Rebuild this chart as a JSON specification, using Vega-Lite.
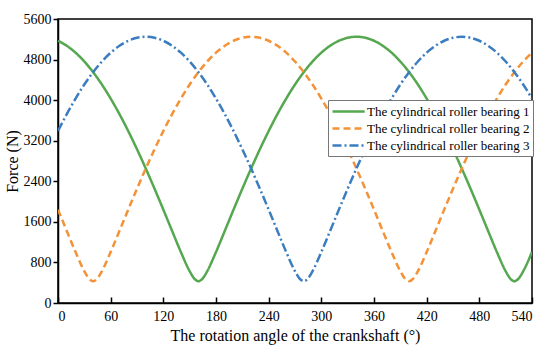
{
  "$schema": "https://vega.github.io/schema/vega-lite/v6.json",
  "width": 474,
  "height": 284,
  "autosize": {"type": "none"},
  "padding": {"left": 58, "top": 19, "right": 18, "bottom": 45},
  "background": "white",
  "config": {
    "font": "Liberation Serif",
    "view": {"stroke": "black", "strokeWidth": 1.5},
    "axis": {"labelFont": "Liberation Serif", "titleFont": "Liberation Serif", "labelColor": "black", "titleColor": "black", "domainColor": "black", "tickColor": "black", "domainWidth": 1.5, "tickWidth": 1.5, "grid": false, "labelFontSize": 14, "titleFontSize": 16, "titleFontWeight": "normal"},
    "legend": {"labelFont": "Liberation Serif", "labelFontSize": 13, "labelColor": "black"}
  },
  "data": {"values": [
    {"angle":0,"force":5171,"series":"The cylindrical roller bearing 1"},
    {"angle":10,"force":5072,"series":"The cylindrical roller bearing 1"},
    {"angle":20,"force":4936,"series":"The cylindrical roller bearing 1"},
    {"angle":30,"force":4762,"series":"The cylindrical roller bearing 1"},
    {"angle":40,"force":4552,"series":"The cylindrical roller bearing 1"},
    {"angle":50,"force":4308,"series":"The cylindrical roller bearing 1"},
    {"angle":60,"force":4031,"series":"The cylindrical roller bearing 1"},
    {"angle":70,"force":3725,"series":"The cylindrical roller bearing 1"},
    {"angle":80,"force":3391,"series":"The cylindrical roller bearing 1"},
    {"angle":90,"force":3032,"series":"The cylindrical roller bearing 1"},
    {"angle":100,"force":2651,"series":"The cylindrical roller bearing 1"},
    {"angle":110,"force":2253,"series":"The cylindrical roller bearing 1"},
    {"angle":120,"force":1841,"series":"The cylindrical roller bearing 1"},
    {"angle":130,"force":1421,"series":"The cylindrical roller bearing 1"},
    {"angle":140,"force":1005,"series":"The cylindrical roller bearing 1"},
    {"angle":150,"force":627,"series":"The cylindrical roller bearing 1"},
    {"angle":155,"force":487,"series":"The cylindrical roller bearing 1"},
    {"angle":160,"force":430,"series":"The cylindrical roller bearing 1"},
    {"angle":165,"force":487,"series":"The cylindrical roller bearing 1"},
    {"angle":170,"force":627,"series":"The cylindrical roller bearing 1"},
    {"angle":180,"force":1005,"series":"The cylindrical roller bearing 1"},
    {"angle":190,"force":1421,"series":"The cylindrical roller bearing 1"},
    {"angle":200,"force":1841,"series":"The cylindrical roller bearing 1"},
    {"angle":210,"force":2253,"series":"The cylindrical roller bearing 1"},
    {"angle":220,"force":2651,"series":"The cylindrical roller bearing 1"},
    {"angle":230,"force":3032,"series":"The cylindrical roller bearing 1"},
    {"angle":240,"force":3391,"series":"The cylindrical roller bearing 1"},
    {"angle":250,"force":3725,"series":"The cylindrical roller bearing 1"},
    {"angle":260,"force":4031,"series":"The cylindrical roller bearing 1"},
    {"angle":270,"force":4308,"series":"The cylindrical roller bearing 1"},
    {"angle":280,"force":4552,"series":"The cylindrical roller bearing 1"},
    {"angle":290,"force":4762,"series":"The cylindrical roller bearing 1"},
    {"angle":300,"force":4936,"series":"The cylindrical roller bearing 1"},
    {"angle":310,"force":5072,"series":"The cylindrical roller bearing 1"},
    {"angle":320,"force":5171,"series":"The cylindrical roller bearing 1"},
    {"angle":330,"force":5230,"series":"The cylindrical roller bearing 1"},
    {"angle":340,"force":5250,"series":"The cylindrical roller bearing 1"},
    {"angle":350,"force":5230,"series":"The cylindrical roller bearing 1"},
    {"angle":360,"force":5171,"series":"The cylindrical roller bearing 1"},
    {"angle":370,"force":5072,"series":"The cylindrical roller bearing 1"},
    {"angle":380,"force":4936,"series":"The cylindrical roller bearing 1"},
    {"angle":390,"force":4762,"series":"The cylindrical roller bearing 1"},
    {"angle":400,"force":4552,"series":"The cylindrical roller bearing 1"},
    {"angle":410,"force":4308,"series":"The cylindrical roller bearing 1"},
    {"angle":420,"force":4031,"series":"The cylindrical roller bearing 1"},
    {"angle":430,"force":3725,"series":"The cylindrical roller bearing 1"},
    {"angle":440,"force":3391,"series":"The cylindrical roller bearing 1"},
    {"angle":450,"force":3032,"series":"The cylindrical roller bearing 1"},
    {"angle":460,"force":2651,"series":"The cylindrical roller bearing 1"},
    {"angle":470,"force":2253,"series":"The cylindrical roller bearing 1"},
    {"angle":480,"force":1841,"series":"The cylindrical roller bearing 1"},
    {"angle":490,"force":1421,"series":"The cylindrical roller bearing 1"},
    {"angle":500,"force":1005,"series":"The cylindrical roller bearing 1"},
    {"angle":510,"force":627,"series":"The cylindrical roller bearing 1"},
    {"angle":515,"force":487,"series":"The cylindrical roller bearing 1"},
    {"angle":520,"force":430,"series":"The cylindrical roller bearing 1"},
    {"angle":525,"force":487,"series":"The cylindrical roller bearing 1"},
    {"angle":530,"force":627,"series":"The cylindrical roller bearing 1"},
    {"angle":540,"force":1005,"series":"The cylindrical roller bearing 1"},
    {"angle":0,"force":1841,"series":"The cylindrical roller bearing 2"},
    {"angle":10,"force":1421,"series":"The cylindrical roller bearing 2"},
    {"angle":20,"force":1005,"series":"The cylindrical roller bearing 2"},
    {"angle":30,"force":627,"series":"The cylindrical roller bearing 2"},
    {"angle":35,"force":487,"series":"The cylindrical roller bearing 2"},
    {"angle":40,"force":430,"series":"The cylindrical roller bearing 2"},
    {"angle":45,"force":487,"series":"The cylindrical roller bearing 2"},
    {"angle":50,"force":627,"series":"The cylindrical roller bearing 2"},
    {"angle":60,"force":1005,"series":"The cylindrical roller bearing 2"},
    {"angle":70,"force":1421,"series":"The cylindrical roller bearing 2"},
    {"angle":80,"force":1841,"series":"The cylindrical roller bearing 2"},
    {"angle":90,"force":2253,"series":"The cylindrical roller bearing 2"},
    {"angle":100,"force":2651,"series":"The cylindrical roller bearing 2"},
    {"angle":110,"force":3032,"series":"The cylindrical roller bearing 2"},
    {"angle":120,"force":3391,"series":"The cylindrical roller bearing 2"},
    {"angle":130,"force":3725,"series":"The cylindrical roller bearing 2"},
    {"angle":140,"force":4031,"series":"The cylindrical roller bearing 2"},
    {"angle":150,"force":4308,"series":"The cylindrical roller bearing 2"},
    {"angle":160,"force":4552,"series":"The cylindrical roller bearing 2"},
    {"angle":170,"force":4762,"series":"The cylindrical roller bearing 2"},
    {"angle":180,"force":4936,"series":"The cylindrical roller bearing 2"},
    {"angle":190,"force":5072,"series":"The cylindrical roller bearing 2"},
    {"angle":200,"force":5171,"series":"The cylindrical roller bearing 2"},
    {"angle":210,"force":5230,"series":"The cylindrical roller bearing 2"},
    {"angle":220,"force":5250,"series":"The cylindrical roller bearing 2"},
    {"angle":230,"force":5230,"series":"The cylindrical roller bearing 2"},
    {"angle":240,"force":5171,"series":"The cylindrical roller bearing 2"},
    {"angle":250,"force":5072,"series":"The cylindrical roller bearing 2"},
    {"angle":260,"force":4936,"series":"The cylindrical roller bearing 2"},
    {"angle":270,"force":4762,"series":"The cylindrical roller bearing 2"},
    {"angle":280,"force":4552,"series":"The cylindrical roller bearing 2"},
    {"angle":290,"force":4308,"series":"The cylindrical roller bearing 2"},
    {"angle":300,"force":4031,"series":"The cylindrical roller bearing 2"},
    {"angle":310,"force":3725,"series":"The cylindrical roller bearing 2"},
    {"angle":320,"force":3391,"series":"The cylindrical roller bearing 2"},
    {"angle":330,"force":3032,"series":"The cylindrical roller bearing 2"},
    {"angle":340,"force":2651,"series":"The cylindrical roller bearing 2"},
    {"angle":350,"force":2253,"series":"The cylindrical roller bearing 2"},
    {"angle":360,"force":1841,"series":"The cylindrical roller bearing 2"},
    {"angle":370,"force":1421,"series":"The cylindrical roller bearing 2"},
    {"angle":380,"force":1005,"series":"The cylindrical roller bearing 2"},
    {"angle":390,"force":627,"series":"The cylindrical roller bearing 2"},
    {"angle":395,"force":487,"series":"The cylindrical roller bearing 2"},
    {"angle":400,"force":430,"series":"The cylindrical roller bearing 2"},
    {"angle":405,"force":487,"series":"The cylindrical roller bearing 2"},
    {"angle":410,"force":627,"series":"The cylindrical roller bearing 2"},
    {"angle":420,"force":1005,"series":"The cylindrical roller bearing 2"},
    {"angle":430,"force":1421,"series":"The cylindrical roller bearing 2"},
    {"angle":440,"force":1841,"series":"The cylindrical roller bearing 2"},
    {"angle":450,"force":2253,"series":"The cylindrical roller bearing 2"},
    {"angle":460,"force":2651,"series":"The cylindrical roller bearing 2"},
    {"angle":470,"force":3032,"series":"The cylindrical roller bearing 2"},
    {"angle":480,"force":3391,"series":"The cylindrical roller bearing 2"},
    {"angle":490,"force":3725,"series":"The cylindrical roller bearing 2"},
    {"angle":500,"force":4031,"series":"The cylindrical roller bearing 2"},
    {"angle":510,"force":4308,"series":"The cylindrical roller bearing 2"},
    {"angle":520,"force":4552,"series":"The cylindrical roller bearing 2"},
    {"angle":530,"force":4762,"series":"The cylindrical roller bearing 2"},
    {"angle":540,"force":4936,"series":"The cylindrical roller bearing 2"},
    {"angle":0,"force":3391,"series":"The cylindrical roller bearing 3"},
    {"angle":10,"force":3725,"series":"The cylindrical roller bearing 3"},
    {"angle":20,"force":4031,"series":"The cylindrical roller bearing 3"},
    {"angle":30,"force":4308,"series":"The cylindrical roller bearing 3"},
    {"angle":40,"force":4552,"series":"The cylindrical roller bearing 3"},
    {"angle":50,"force":4762,"series":"The cylindrical roller bearing 3"},
    {"angle":60,"force":4936,"series":"The cylindrical roller bearing 3"},
    {"angle":70,"force":5072,"series":"The cylindrical roller bearing 3"},
    {"angle":80,"force":5171,"series":"The cylindrical roller bearing 3"},
    {"angle":90,"force":5230,"series":"The cylindrical roller bearing 3"},
    {"angle":100,"force":5250,"series":"The cylindrical roller bearing 3"},
    {"angle":110,"force":5230,"series":"The cylindrical roller bearing 3"},
    {"angle":120,"force":5171,"series":"The cylindrical roller bearing 3"},
    {"angle":130,"force":5072,"series":"The cylindrical roller bearing 3"},
    {"angle":140,"force":4936,"series":"The cylindrical roller bearing 3"},
    {"angle":150,"force":4762,"series":"The cylindrical roller bearing 3"},
    {"angle":160,"force":4552,"series":"The cylindrical roller bearing 3"},
    {"angle":170,"force":4308,"series":"The cylindrical roller bearing 3"},
    {"angle":180,"force":4031,"series":"The cylindrical roller bearing 3"},
    {"angle":190,"force":3725,"series":"The cylindrical roller bearing 3"},
    {"angle":200,"force":3391,"series":"The cylindrical roller bearing 3"},
    {"angle":210,"force":3032,"series":"The cylindrical roller bearing 3"},
    {"angle":220,"force":2651,"series":"The cylindrical roller bearing 3"},
    {"angle":230,"force":2253,"series":"The cylindrical roller bearing 3"},
    {"angle":240,"force":1841,"series":"The cylindrical roller bearing 3"},
    {"angle":250,"force":1421,"series":"The cylindrical roller bearing 3"},
    {"angle":260,"force":1005,"series":"The cylindrical roller bearing 3"},
    {"angle":270,"force":627,"series":"The cylindrical roller bearing 3"},
    {"angle":275,"force":487,"series":"The cylindrical roller bearing 3"},
    {"angle":280,"force":430,"series":"The cylindrical roller bearing 3"},
    {"angle":285,"force":487,"series":"The cylindrical roller bearing 3"},
    {"angle":290,"force":627,"series":"The cylindrical roller bearing 3"},
    {"angle":300,"force":1005,"series":"The cylindrical roller bearing 3"},
    {"angle":310,"force":1421,"series":"The cylindrical roller bearing 3"},
    {"angle":320,"force":1841,"series":"The cylindrical roller bearing 3"},
    {"angle":330,"force":2253,"series":"The cylindrical roller bearing 3"},
    {"angle":340,"force":2651,"series":"The cylindrical roller bearing 3"},
    {"angle":350,"force":3032,"series":"The cylindrical roller bearing 3"},
    {"angle":360,"force":3391,"series":"The cylindrical roller bearing 3"},
    {"angle":370,"force":3725,"series":"The cylindrical roller bearing 3"},
    {"angle":380,"force":4031,"series":"The cylindrical roller bearing 3"},
    {"angle":390,"force":4308,"series":"The cylindrical roller bearing 3"},
    {"angle":400,"force":4552,"series":"The cylindrical roller bearing 3"},
    {"angle":410,"force":4762,"series":"The cylindrical roller bearing 3"},
    {"angle":420,"force":4936,"series":"The cylindrical roller bearing 3"},
    {"angle":430,"force":5072,"series":"The cylindrical roller bearing 3"},
    {"angle":440,"force":5171,"series":"The cylindrical roller bearing 3"},
    {"angle":450,"force":5230,"series":"The cylindrical roller bearing 3"},
    {"angle":460,"force":5250,"series":"The cylindrical roller bearing 3"},
    {"angle":470,"force":5230,"series":"The cylindrical roller bearing 3"},
    {"angle":480,"force":5171,"series":"The cylindrical roller bearing 3"},
    {"angle":490,"force":5072,"series":"The cylindrical roller bearing 3"},
    {"angle":500,"force":4936,"series":"The cylindrical roller bearing 3"},
    {"angle":510,"force":4762,"series":"The cylindrical roller bearing 3"},
    {"angle":520,"force":4552,"series":"The cylindrical roller bearing 3"},
    {"angle":530,"force":4308,"series":"The cylindrical roller bearing 3"},
    {"angle":540,"force":4031,"series":"The cylindrical roller bearing 3"}
  ]},
  "mark": {"type": "line", "interpolate": "monotone", "strokeWidth": 2.5, "clip": true},
  "encoding": {
    "x": {"field": "angle", "type": "quantitative", "scale": {"domain": [0, 540], "nice": false},
      "axis": {"title": "The rotation angle of the crankshaft (°)", "values": [0,60,120,180,240,300,360,420,480,540], "format": "d", "labelFont": "Liberation Serif", "labelFontSize": 14, "tickSize": -6, "labelPadding": 12, "titleFont": "Liberation Serif", "titleFontSize": 16, "titleY": 37, "titleBaseline": "alphabetic"}},
    "y": {"field": "force", "type": "quantitative", "scale": {"domain": [0, 5600], "nice": false},
      "axis": {"title": "Force (N)", "values": [0,800,1600,2400,3200,4000,4800,5600], "format": "d", "labelFont": "Liberation Serif", "labelFontSize": 14, "tickSize": 5, "labelPadding": 2, "titleFont": "Liberation Serif", "titleFontSize": 16, "titleX": -38, "titleY": 142}},
    "color": {"field": "series", "type": "nominal",
      "scale": {"domain": ["The cylindrical roller bearing 1","The cylindrical roller bearing 2","The cylindrical roller bearing 3"], "range": ["#55A84F","#F39237","#3B7DBF"]},
      "legend": {"title": null, "orient": "none", "legendX": 270, "legendY": 81, "symbolType": "M-1,0L3.6,0", "symbolSize": 196, "symbolStrokeWidth": 2.5, "strokeColor": "#777777", "fillColor": "white", "padding": 3, "rowPadding": 1, "labelOffset": 19, "labelLimit": 300}},
    "strokeDash": {"field": "series", "type": "nominal",
      "scale": {"domain": ["The cylindrical roller bearing 1","The cylindrical roller bearing 2","The cylindrical roller bearing 3"], "range": [[1,0],[7,4],[9,3,2,3]]}}
  }
}
